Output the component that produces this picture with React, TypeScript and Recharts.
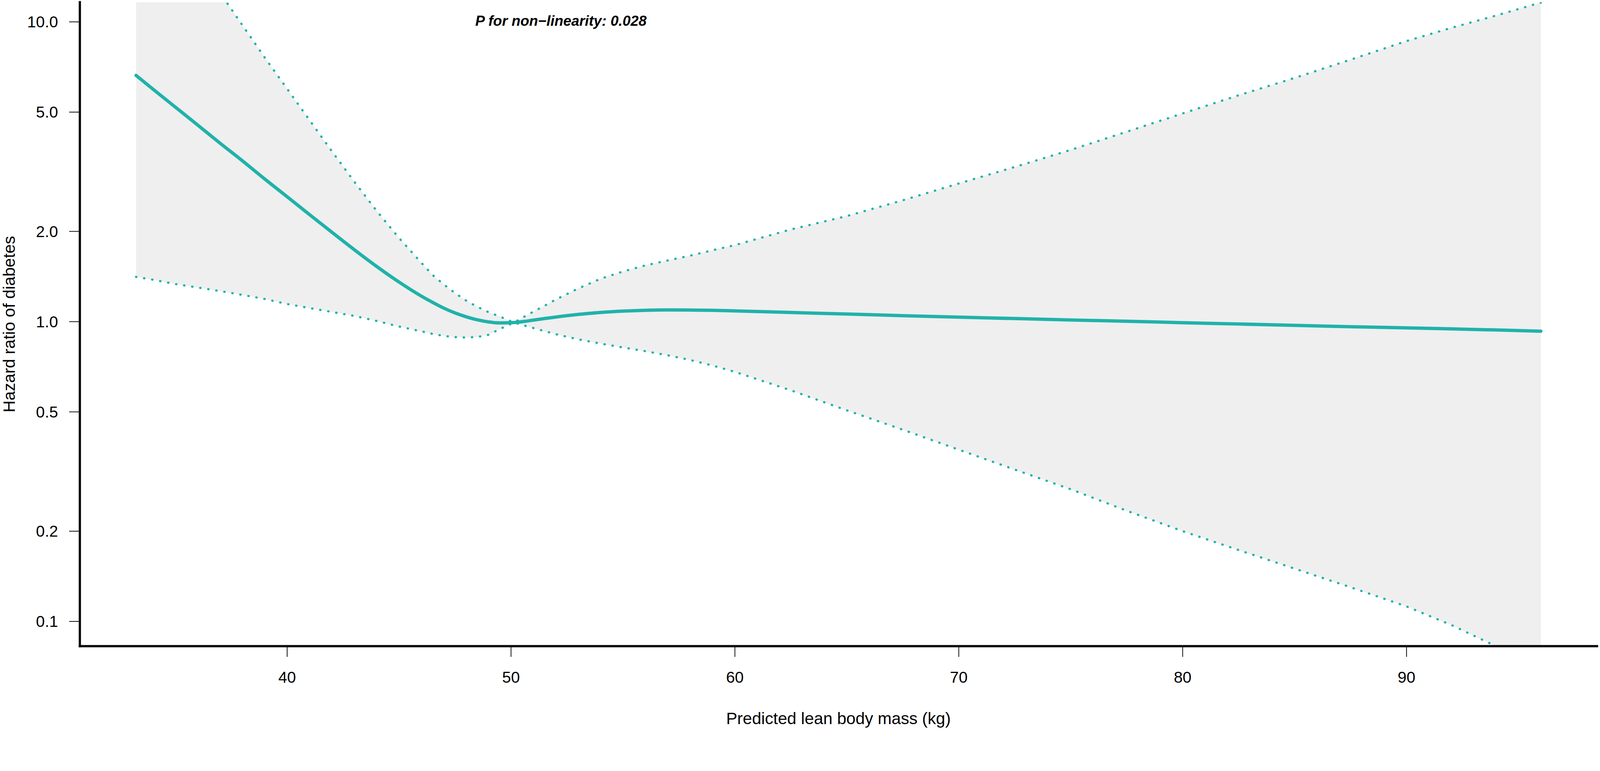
import React from 'react';
import { ComposedChart, Area, Line, XAxis, YAxis, ReferenceDot } from 'recharts';

// Predicted lean body mass (kg)
const leanMass = [33.25, 34, 35, 36, 37, 38, 39, 40, 41, 42, 43, 44, 45, 46, 46.5, 47, 47.5, 48, 48.5, 49, 49.5, 50.13, 50.6, 51, 51.5, 52, 53, 54, 55, 56, 57, 58, 59, 60, 62.5, 65, 67.5, 70, 72.5, 75, 77.5, 80, 82.5, 85, 87.5, 90, 92, 94, 96];
// Hazard ratio (point estimate)
const hazardRatio = [6.63, 5.97, 5.2, 4.53, 3.94, 3.44, 2.99, 2.61, 2.275, 1.987, 1.738, 1.528, 1.355, 1.216, 1.159, 1.109, 1.069, 1.038, 1.014, 0.998, 0.99, 0.993, 1.002, 1.012, 1.024, 1.036, 1.057, 1.073, 1.084, 1.091, 1.094, 1.093, 1.091, 1.086, 1.073, 1.06, 1.047, 1.035, 1.024, 1.013, 1.003, 0.992, 0.982, 0.972, 0.962, 0.953, 0.946, 0.938, 0.929];
// Upper 95% CI
const upperCI = [40, 30, 21, 15.5, 12.5, 9.75, 7.6, 5.98, 4.7, 3.7, 2.93, 2.34, 1.9, 1.57, 1.43, 1.33, 1.245, 1.175, 1.12, 1.075, 1.04, 0.993, 1.04, 1.08, 1.13, 1.185, 1.29, 1.39, 1.47, 1.54, 1.6, 1.66, 1.73, 1.8, 2.03, 2.25, 2.54, 2.89, 3.28, 3.74, 4.3, 4.95, 5.69, 6.5, 7.48, 8.63, 9.55, 10.5, 11.6];
// Lower 95% CI
const lowerCI = [1.41, 1.38, 1.335, 1.3, 1.265, 1.228, 1.19, 1.145, 1.11, 1.077, 1.045, 1.005, 0.963, 0.928, 0.91, 0.896, 0.888, 0.885, 0.889, 0.904, 0.945, 0.993, 0.97, 0.952, 0.93, 0.908, 0.873, 0.845, 0.82, 0.797, 0.772, 0.745, 0.714, 0.68, 0.59, 0.506, 0.436, 0.374, 0.321, 0.276, 0.234, 0.2, 0.173, 0.15, 0.13, 0.1122, 0.0973, 0.0826, 0.0697];

const xTicks = [40, 50, 60, 70, 80, 90];
const yTicks = [0.1, 0.2, 0.5, 1, 2, 5, 10];

const annotation = 'P for non\u2212linearity: 0.028';
const annotationX = 52.23;
const annotationY = 10.1;

const data = leanMass.map((x, i) => ({
  x,
  hr: hazardRatio[i],
  hi: upperCI[i],
  lo: lowerCI[i],
}));

const FONT = '"Liberation Sans", Arial, Helvetica, sans-serif';
const TEAL = '#20B2AA';
const W = 4328;
const H = 1974;

function fitScale(): number {
  if (typeof window === 'undefined') return 1;
  const iw = window.innerWidth;
  const ih = window.innerHeight;
  if (!isFinite(iw) || !isFinite(ih) || iw < 100 || ih < 100) return 1;
  return Math.min(iw / W, ih / H, 1);
}

export default function App() {
  const s = fitScale();
  return (
    <div style={{ position: 'absolute', left: 0, top: 0, width: W, height: H, background: '#fff', fontFamily: FONT, transform: `scale(${s})`, transformOrigin: '0 0' }}>
      <ComposedChart width={W} height={H} data={data} margin={{ top: 6, right: 8, bottom: 0, left: 0 }}>
        <XAxis
          dataKey="x"
          type="number"
          domain={[30.74, 98.51]}
          allowDataOverflow
          ticks={xTicks}
          height={226}
          stroke="#000"
          axisLine={{ stroke: '#000', strokeWidth: 6, strokeLinecap: 'square' }}
          tickLine={{ stroke: '#000', strokeWidth: 2 }}
          tickSize={29}
          tickMargin={39}
          tick={{ fill: '#000', fontSize: 43, fontFamily: FONT }}
          label={{ value: 'Predicted lean body mass (kg)', position: 'insideBottom', offset: 15, fill: '#000', fontSize: 45, fontFamily: FONT }}
        />
        <YAxis
          type="number"
          scale="log"
          domain={[0.0827, 11.63]}
          allowDataOverflow
          ticks={yTicks}
          tickFormatter={(v: number) => v.toFixed(1)}
          width={216}
          stroke="#000"
          axisLine={{ stroke: '#000', strokeWidth: 6, strokeLinecap: 'square' }}
          tickLine={{ stroke: '#000', strokeWidth: 2 }}
          tickSize={29}
          tickMargin={30}
          tick={{ fill: '#000', fontSize: 43, fontFamily: FONT }}
          label={{ value: 'Hazard ratio of diabetes', angle: -90, position: 'insideLeft', offset: 24, fill: '#000', fontSize: 45, fontFamily: FONT, style: { textAnchor: 'middle' } }}
        />
        <Area
          dataKey={(d: any) => [d.lo, d.hi]}
          type="linear"
          fill="#EFEFEF"
          fillOpacity={1}
          stroke="none"
          isAnimationActive={false}
          activeDot={false}
        />
        <Line
          dataKey="hi"
          type="linear"
          stroke={TEAL}
          strokeWidth={6}
          strokeDasharray="1 21"
          strokeLinecap="round"
          dot={false}
          activeDot={false}
          isAnimationActive={false}
        />
        <Line
          dataKey="lo"
          type="linear"
          stroke={TEAL}
          strokeWidth={6}
          strokeDasharray="1 21"
          strokeLinecap="round"
          dot={false}
          activeDot={false}
          isAnimationActive={false}
        />
        <Line
          dataKey="hr"
          type="monotone"
          stroke={TEAL}
          strokeWidth={9}
          strokeLinecap="round"
          dot={false}
          activeDot={false}
          isAnimationActive={false}
        />
        <ReferenceDot
          x={annotationX}
          y={annotationY}
          r={0}
          fill="none"
          stroke="none"
          label={{ value: annotation, position: 'center', fill: '#000', fontSize: 39, fontWeight: 'bold', fontStyle: 'italic', fontFamily: FONT }}
        />
      </ComposedChart>
    </div>
  );
}
